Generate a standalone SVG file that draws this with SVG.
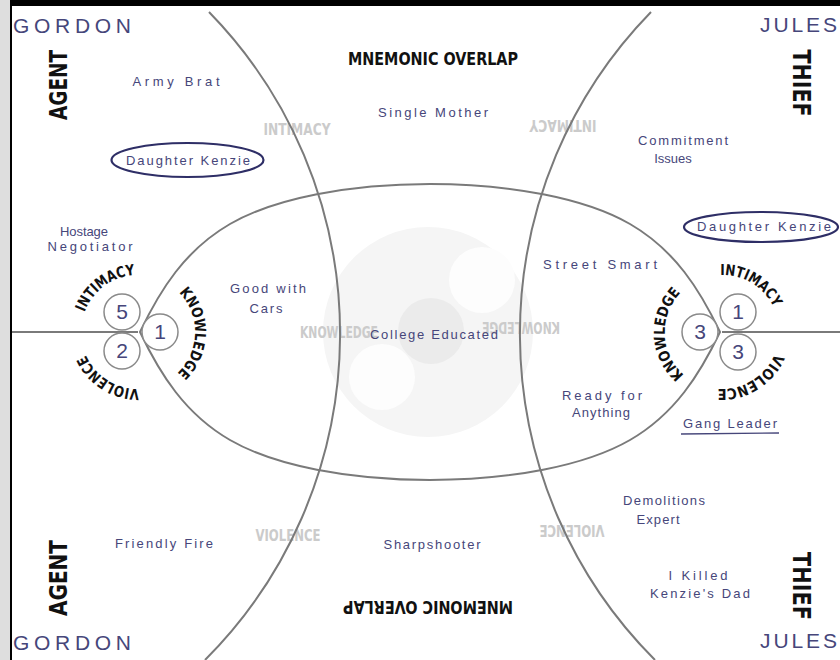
<svg xmlns="http://www.w3.org/2000/svg" width="840" height="660" viewBox="0 0 840 660">
<defs>
<style>
.hw{font-family:'Liberation Sans','DejaVu Sans',sans-serif;fill:#46467a;font-size:13px}
.big{font-size:21px}
.dig{font-size:21px;text-anchor:middle}
.stamp{font-family:'DejaVu Sans Condensed','DejaVu Sans',sans-serif;font-stretch:condensed;font-weight:bold;fill:#111}
.ghost{font-family:'DejaVu Sans Condensed','DejaVu Sans',sans-serif;font-stretch:condensed;font-weight:bold;fill:#cbcbcb;font-size:15px;text-anchor:middle}
.line{fill:none;stroke:#7a7a7a;stroke-width:2}
.ring{fill:#fff;stroke:#8a8a8a;stroke-width:1.5}
.oval{fill:none;stroke:#2e2e66;stroke-width:2.2}
.mid{text-anchor:middle}
</style>
<path id="cl" d="M81,332 A57,57 0 1 1 195,332 A57,57 0 1 1 81,332"/>
<path id="cr" d="M702.5,278.44 A57,57 0 1 1 741.5,385.56 A57,57 0 1 1 702.5,278.44"/>
</defs>
<rect width="840" height="660" fill="#fff"/>
<g id="frame">
<rect x="0" y="0" width="840" height="6" fill="#000"/>
<rect x="0" y="0" width="10" height="660" fill="#dedede"/>
<rect x="10" y="0" width="2" height="660" fill="#000"/>
</g>
<g id="watermark">
<circle cx="428" cy="332" r="105" fill="#f5f5f5"/>
<circle cx="431" cy="331" r="33" fill="#ebebeb"/>
<circle cx="482" cy="280" r="33" fill="#fdfdfd"/>
<circle cx="382" cy="377" r="33" fill="#fdfdfd"/>
</g>
<g id="ghost-labels">
<text class="ghost" x="297" y="135" textLength="67" lengthAdjust="spacingAndGlyphs">INTIMACY</text>
<text class="ghost" transform="translate(563,120) rotate(180)" textLength="67" lengthAdjust="spacingAndGlyphs">INTIMACY</text>
<text class="ghost" x="339" y="338" textLength="78" lengthAdjust="spacingAndGlyphs">KNOWLEDGE</text>
<text class="ghost" transform="translate(521,322) rotate(180)" textLength="78" lengthAdjust="spacingAndGlyphs">KNOWLEDGE</text>
<text class="ghost" x="288" y="541" textLength="65" lengthAdjust="spacingAndGlyphs">VIOLENCE</text>
<text class="ghost" transform="translate(572,525) rotate(180)" textLength="65" lengthAdjust="spacingAndGlyphs">VIOLENCE</text>
</g>
<g id="connectors">
<path class="line" d="M209,12 A461,461 0 0 1 205,660"/>
<path class="line" d="M651,12 A461,461 0 0 0 655,660"/>
<path class="line" d="M140,332 C160,290 185,250 230,224 C275,198 350,184 430,184 C510,184 585,198 630,224 C675,250 700,290 720,332 C700,374 675,414 630,440 C585,466 510,480 430,480 C350,480 275,466 230,440 C185,414 160,374 140,332 Z"/>
<line class="line" x1="12" y1="332" x2="138" y2="332"/>
<line class="line" x1="722" y1="332" x2="840" y2="332"/>
</g>
<g id="title-top"><text class="stamp" x="433" y="65" font-size="18" text-anchor="middle" textLength="170" lengthAdjust="spacingAndGlyphs">MNEMONIC OVERLAP</text></g>
<g id="title-bottom"><text class="stamp" transform="translate(428,601) rotate(180)" font-size="18" text-anchor="middle" textLength="170" lengthAdjust="spacingAndGlyphs">MNEMONIC OVERLAP</text></g>
<g id="gordon-top"><text class="hw big" x="13" y="33" textLength="118">GORDON</text></g>
<g id="gordon-bottom"><text class="hw big" x="13" y="650" textLength="118">GORDON</text></g>
<g id="jules-top"><text class="hw big" x="760" y="32" textLength="77">JULES</text></g>
<g id="jules-bottom"><text class="hw big" x="760" y="648" textLength="77">JULES</text></g>
<g id="agent-top"><text class="stamp" transform="translate(67,85) rotate(-90)" font-size="24" text-anchor="middle" textLength="70" lengthAdjust="spacingAndGlyphs">AGENT</text></g>
<g id="agent-bottom"><text class="stamp" transform="translate(67,578) rotate(-90)" font-size="24" text-anchor="middle" textLength="76" lengthAdjust="spacingAndGlyphs">AGENT</text></g>
<g id="thief-top"><text class="stamp" transform="translate(793,83) rotate(90)" font-size="24" text-anchor="middle" textLength="67" lengthAdjust="spacingAndGlyphs">THIEF</text></g>
<g id="thief-bottom"><text class="stamp" transform="translate(793,586) rotate(90)" font-size="24" text-anchor="middle" textLength="68" lengthAdjust="spacingAndGlyphs">THIEF</text></g>
<g id="army-brat"><text class="hw mid" x="176" y="86" textLength="87">Army Brat</text></g>
<g id="daughter-left"><ellipse class="oval" cx="187.5" cy="160" rx="76" ry="17"/><text class="hw mid" x="188" y="165" textLength="124">Daughter Kenzie</text></g>
<g id="hostage"><text class="hw mid" x="84" y="236" textLength="48">Hostage</text><text class="hw mid" x="90" y="251" textLength="85">Negotiator</text></g>
<g id="good-cars"><text class="hw mid" x="268" y="293" textLength="76">Good with</text><text class="hw mid" x="266" y="313" textLength="33">Cars</text></g>
<g id="single-mother"><text class="hw mid" x="433" y="117" textLength="110">Single Mother</text></g>
<g id="college"><text class="hw mid" x="434" y="339" font-size="14" textLength="128">College Educated</text></g>
<g id="commitment"><text class="hw mid" x="683" y="145" textLength="90">Commitment</text><text class="hw mid" x="673" y="163" font-size="11">Issues</text></g>
<g id="daughter-right"><ellipse class="oval" cx="761" cy="227" rx="77" ry="15"/><text class="hw mid" x="764" y="231" textLength="134">Daughter Kenzie</text></g>
<g id="street-smart"><text class="hw mid" x="600" y="269" textLength="114">Street Smart</text></g>
<g id="ready"><text class="hw mid" x="602" y="400" textLength="80">Ready for</text><text class="hw mid" x="601" y="417" textLength="58">Anything</text></g>
<g id="gang-leader"><text class="hw mid" x="730" y="428" textLength="94">Gang Leader</text><line x1="681" y1="434" x2="779" y2="433" stroke="#46467a" stroke-width="1.3"/></g>
<g id="demolitions"><text class="hw mid" x="664" y="505" textLength="82">Demolitions</text><text class="hw mid" x="658" y="524" textLength="43">Expert</text></g>
<g id="killed"><text class="hw mid" x="698" y="580" textLength="59">I Killed</text><text class="hw mid" x="700" y="598" textLength="100">Kenzie's Dad</text></g>
<g id="friendly-fire"><text class="hw mid" x="164" y="548" textLength="98">Friendly Fire</text></g>
<g id="sharpshooter"><text class="hw mid" x="432" y="549" textLength="97">Sharpshooter</text></g>
<g id="gordon-scores">
<circle class="ring" cx="122" cy="312" r="18"/><text class="hw dig" x="122" y="319">5</text>
<circle class="ring" cx="122" cy="351" r="18"/><text class="hw dig" x="122" y="358">2</text>
<circle class="ring" cx="160" cy="332" r="18"/><text class="hw dig" x="160" y="339">1</text>
<text class="stamp" font-size="15"><textPath href="#cl" startOffset="53.2" text-anchor="middle" textLength="66" lengthAdjust="spacingAndGlyphs">INTIMACY</textPath></text>
<text class="stamp" font-size="15"><textPath href="#cl" startOffset="180" text-anchor="middle" textLength="90" lengthAdjust="spacingAndGlyphs">KNOWLEDGE</textPath></text>
<text class="stamp" font-size="15"><textPath href="#cl" startOffset="300.4" text-anchor="middle" textLength="67" lengthAdjust="spacingAndGlyphs">VIOLENCE</textPath></text>
</g>
<g id="jules-scores">
<circle class="ring" cx="700" cy="332" r="18"/><text class="hw dig" x="700" y="339">3</text>
<circle class="ring" cx="738" cy="312" r="18"/><text class="hw dig" x="738" y="319">1</text>
<circle class="ring" cx="738" cy="352" r="18"/><text class="hw dig" x="738" y="359">3</text>
<text class="stamp" font-size="15"><textPath href="#cr" startOffset="51.2" text-anchor="middle" textLength="66" lengthAdjust="spacingAndGlyphs">INTIMACY</textPath></text>
<text class="stamp" font-size="15"><textPath href="#cr" startOffset="167.6" text-anchor="middle" textLength="72" lengthAdjust="spacingAndGlyphs">VIOLENCE</textPath></text>
<text class="stamp" font-size="15"><textPath href="#cr" startOffset="286.5" text-anchor="middle" textLength="92" lengthAdjust="spacingAndGlyphs">KNOWLEDGE</textPath></text>
</g>
</svg>
